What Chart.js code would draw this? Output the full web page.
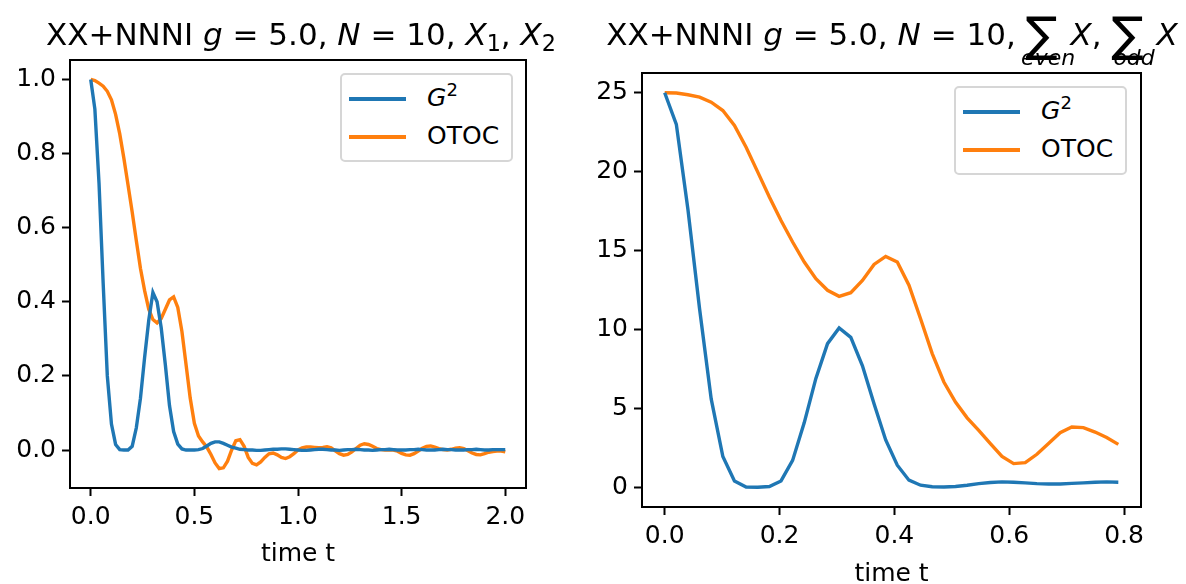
<!DOCTYPE html>
<html>
<head>
<meta charset="utf-8">
<script src="https://cdn.jsdelivr.net/npm/chart.js@4.4.1/dist/chart.umd.min.js"></script>
<style>
    body { margin: 0; width: 1186px; height: 584px; overflow: hidden; position: relative; background: #fff; font-family: 'DejaVu Sans', sans-serif; color: #000; }
    canvas { position: absolute; top: 0; }
    .title { position: absolute; top: 16px; font-size: 31px; line-height: 36px; white-space: nowrap; transform: translateX(-50%); }
    .title sub { font-size: 72%; vertical-align: baseline; position: relative; top: 0.26em; }
    .op { position: relative; display: inline-block; width: 45px; height: 1px; }
    .op .sig { position: absolute; left: 0; top: -34px; font-size: 48px; line-height: 48px; }
    .op .lim { position: absolute; left: 50%; transform: translateX(-50%); top: 3px; font-size: 22px; line-height: 22px; font-style: italic; white-space: nowrap; }
    .legend { position: absolute; width: 173px; height: 89px; box-sizing: border-box; border: 2px solid #d6d6d6; border-radius: 5px; background: #fff; }
    .entry { position: absolute; left: 0; height: 0; }
    .swatch { position: absolute; left: 7px; top: -2px; width: 57px; height: 3.5px; }
    .label { position: absolute; left: 85px; top: -16px; font-size: 25px; line-height: 30px; white-space: nowrap; }
    .label sup { font-size: 72%; vertical-align: baseline; position: relative; top: -0.55em; }
</style>
</head>
<body>
<canvas id="leftChart" width="593" height="584" style="left:0"></canvas>
<canvas id="rightChart" width="593" height="584" style="left:593px"></canvas>

<div class="title" style="left:301px">XX+NNNI <i>g</i> = 5.0, <i>N</i> = 10, <i>X</i><sub>1</sub>, <i>X</i><sub>2</sub></div>
<div class="title" style="left:892px">XX+NNNI <i>g</i> = 5.0, <i>N</i> = 10, <span class="op"><span class="sig">∑</span><span class="lim">even</span></span><i>X</i>, <span class="op"><span class="sig">∑</span><span class="lim">odd</span></span><i>X</i></div>

<div class="legend" style="left:340px;top:73px">
    <div class="entry" style="top:24px"><span class="swatch" style="background:#1f77b4"></span><span class="label"><i>G</i><sup>2</sup></span></div>
    <div class="entry" style="top:62px"><span class="swatch" style="background:#ff7f0e"></span><span class="label">OTOC</span></div>
</div>
<div class="legend" style="left:954px;top:86px">
    <div class="entry" style="top:24px"><span class="swatch" style="background:#1f77b4"></span><span class="label"><i>G</i><sup>2</sup></span></div>
    <div class="entry" style="top:62px"><span class="swatch" style="background:#ff7f0e"></span><span class="label">OTOC</span></div>
</div>

<script>
// Trục thời gian và dữ liệu
const tLeft = [
    0.00, 0.02, 0.04, 0.06, 0.08, 0.10, 0.12, 0.14, 0.16, 0.18,
    0.20, 0.22, 0.24, 0.26, 0.28, 0.30, 0.32, 0.34, 0.36, 0.38,
    0.40, 0.42, 0.44, 0.46, 0.48, 0.50, 0.52, 0.54, 0.56, 0.58,
    0.60, 0.62, 0.64, 0.66, 0.68, 0.70, 0.72, 0.74, 0.76, 0.78,
    0.80, 0.82, 0.84, 0.86, 0.88, 0.90, 0.92, 0.94, 0.96, 0.98,
    1.00, 1.02, 1.04, 1.06, 1.08, 1.10, 1.12, 1.14, 1.16, 1.18,
    1.20, 1.22, 1.24, 1.26, 1.28, 1.30, 1.32, 1.34, 1.36, 1.38,
    1.40, 1.42, 1.44, 1.46, 1.48, 1.50, 1.52, 1.54, 1.56, 1.58,
    1.60, 1.62, 1.64, 1.66, 1.68, 1.70, 1.72, 1.74, 1.76, 1.78,
    1.80, 1.82, 1.84, 1.86, 1.88, 1.90, 1.92, 1.94, 1.96, 1.98,
    2.00
];
const g2Left = [
    1.0, 0.92, 0.72, 0.45, 0.2, 0.07, 0.015, 0.001, 0.0, 0.0,
    0.01, 0.06, 0.14, 0.25, 0.35, 0.425, 0.40, 0.33, 0.23, 0.12,
    0.05, 0.016, 0.003, 0.0, 0.0, 0.0, 0.001, 0.004, 0.011, 0.018,
    0.022, 0.022, 0.018, 0.013, 0.008, 0.005, 0.002, 0.001, 0.0, 0.0,
    -0.001, -0.001, 0.0, 0.001, 0.002, 0.002, 0.003, 0.003, 0.002, 0.001,
    0.0, -0.001, -0.001, 0.0, 0.001, 0.002, 0.002, 0.001, 0.0, 0.0,
    -0.001, 0.0, 0.001, 0.001, 0.002, 0.001, 0.0, 0.0, -0.001, 0.0,
    0.001, 0.001, 0.002, 0.001, 0.0, 0.0, 0.0, 0.001, 0.001, 0.002,
    0.001, 0.0, 0.0, 0.0, 0.001, 0.002, 0.001, 0.001, 0.0, 0.0,
    0.0, 0.001, 0.001, 0.002, 0.001, 0.0, 0.0, 0.001, 0.001, 0.001,
    0.001
];
const otocLeft = [
    1.0, 0.997, 0.99, 0.982, 0.968, 0.945, 0.906, 0.853, 0.787, 0.715,
    0.642, 0.565, 0.49, 0.43, 0.38, 0.352, 0.343, 0.355, 0.38, 0.405,
    0.413, 0.385, 0.32, 0.23, 0.14, 0.072, 0.038, 0.022, 0.008, -0.012,
    -0.035, -0.05, -0.048, -0.03, 0.0, 0.025, 0.028, 0.01, -0.02, -0.036,
    -0.04, -0.032, -0.02, -0.01, -0.008, -0.013, -0.02, -0.023, -0.018, -0.01,
    0.0, 0.006, 0.008, 0.008, 0.007, 0.006, 0.007, 0.009, 0.006, -0.002,
    -0.01, -0.014, -0.012, -0.005, 0.004, 0.013, 0.017, 0.015, 0.01, 0.004,
    0.001, 0.0, 0.0, 0.0, -0.003, -0.009, -0.013, -0.014, -0.01, -0.003,
    0.005, 0.01, 0.011, 0.008, 0.004, 0.001, 0.0, 0.002, 0.005, 0.006,
    0.004, -0.002, -0.008, -0.012, -0.013, -0.01, -0.006, -0.004, -0.003, -0.003,
    -0.005
];

const tRight = [
    0.0, 0.0203, 0.0405, 0.0608, 0.081, 0.1013, 0.1215, 0.1418, 0.1621, 0.1823,
    0.2026, 0.2228, 0.2431, 0.2633, 0.2836, 0.3038, 0.3241, 0.3444, 0.3646, 0.3849,
    0.4051, 0.4254, 0.4456, 0.4659, 0.4862, 0.5064, 0.5267, 0.5469, 0.5672, 0.5874,
    0.6077, 0.6279, 0.6482, 0.6685, 0.6887, 0.709, 0.7292, 0.7495, 0.7697, 0.79
];
const g2Right = [
    25.0, 23.0, 17.6, 11.3, 5.6, 1.95, 0.4, 0.02, 0.0, 0.05,
    0.4, 1.7, 4.1, 6.9, 9.1, 10.1, 9.5, 7.7, 5.3, 3.0,
    1.4, 0.45, 0.13, 0.03, 0.02, 0.05, 0.13, 0.23, 0.3, 0.34,
    0.32, 0.28, 0.23, 0.21, 0.21, 0.25, 0.28, 0.32, 0.34, 0.32
];
const otocRight = [
    25.0, 24.98, 24.87, 24.72, 24.4, 23.87, 22.93, 21.55, 19.97, 18.39,
    16.9, 15.54, 14.27, 13.22, 12.48, 12.1, 12.33, 13.1, 14.12, 14.63,
    14.27, 12.8, 10.68, 8.47, 6.67, 5.4, 4.4, 3.61, 2.77, 1.96,
    1.5, 1.56, 2.09, 2.77, 3.46, 3.82, 3.78, 3.5, 3.15, 2.72
];

// Nhãn vạch chia
const xTicksLeft = [0.0, 0.5, 1.0, 1.5, 2.0];
const yTicksLeft = [0.0, 0.2, 0.4, 0.6, 0.8, 1.0];
const xTicksRight = [0.0, 0.2, 0.4, 0.6, 0.8];
const yTicksRight = [0, 5, 10, 15, 20, 25];

const BLUE = '#1f77b4';
const ORANGE = '#ff7f0e';
const FONT = "'DejaVu Sans', sans-serif";

// Khung đen bao quanh vùng vẽ (kiểu matplotlib)
const framePlugin = {
    id: 'frame',
    afterDraw(chart) {
        const { ctx, chartArea: a } = chart;
        ctx.save();
        ctx.strokeStyle = '#000';
        ctx.lineWidth = 2;
        ctx.strokeRect(a.left, a.top, a.right - a.left, a.bottom - a.top);
        ctx.restore();
    }
};

const toPoints = (xs, ys) => xs.map((x, i) => ({ x, y: ys[i] }));

function makeAxis(ticks, min, max, fmt, extra) {
    return Object.assign({
        type: 'linear',
        min, max,
        afterBuildTicks: s => { s.ticks = ticks.map(v => ({ value: v })); },
        ticks: {
            callback: fmt,
            font: { family: FONT, size: 25 },
            color: '#000',
            padding: 6,
            autoSkip: false,
            maxRotation: 0
        },
        grid: { display: true, drawOnChartArea: false, drawTicks: true, tickLength: 8, tickWidth: 2, tickColor: '#000' },
        border: { display: true, color: '#000', width: 2 }
    }, extra);
}

function drawPanel(id, t, g2, otoc, o) {
    const ctx = document.getElementById(id).getContext('2d');
    return new Chart(ctx, {
        type: 'line',
        data: {
            datasets: [
                { label: 'G2', data: toPoints(t, g2), borderColor: BLUE, borderWidth: 3.4, pointRadius: 0, tension: 0, fill: false },
                { label: 'OTOC', data: toPoints(t, otoc), borderColor: ORANGE, borderWidth: 3.4, pointRadius: 0, tension: 0, fill: false }
            ]
        },
        options: {
            responsive: false,
            animation: false,
            devicePixelRatio: 1,
            layout: { padding: { top: o.top, right: o.right, left: 0, bottom: 0 } },
            plugins: { legend: { display: false }, tooltip: { enabled: false } },
            scales: {
                x: makeAxis(o.xTicks, o.xMin, o.xMax, v => v.toFixed(1), {
                    afterFit: s => { s.height = o.xHeight; },
                    title: {
                        display: true, text: 'time t', color: '#000',
                        font: { family: FONT, size: 25, lineHeight: o.titleLH },
                        padding: { top: 0, bottom: o.titlePad }
                    }
                }),
                y: makeAxis(o.yTicks, o.yMin, o.yMax, o.yFmt, {
                    afterFit: s => { s.width = o.yWidth; }
                })
            }
        },
        plugins: [framePlugin]
    });
}

drawPanel('leftChart', tLeft, g2Left, otocLeft, {
    top: 60, right: 67, xHeight: 96, yWidth: 70,
    xMin: -0.1, xMax: 2.1, yMin: -0.1025, yMax: 1.0525,
    xTicks: xTicksLeft, yTicks: yTicksLeft, yFmt: v => v.toFixed(1),
    titleLH: 1.2, titlePad: 15
});

drawPanel('rightChart', tRight, g2Right, otocRight, {
    top: 73, right: 45, xHeight: 77, yWidth: 49,
    xMin: -0.0395, xMax: 0.8295, yMin: -1.25, yMax: 26.25,
    xTicks: xTicksRight, yTicks: yTicksRight, yFmt: v => String(v),
    titleLH: 0.8, titlePad: 0
});
</script>
</body>
</html>
